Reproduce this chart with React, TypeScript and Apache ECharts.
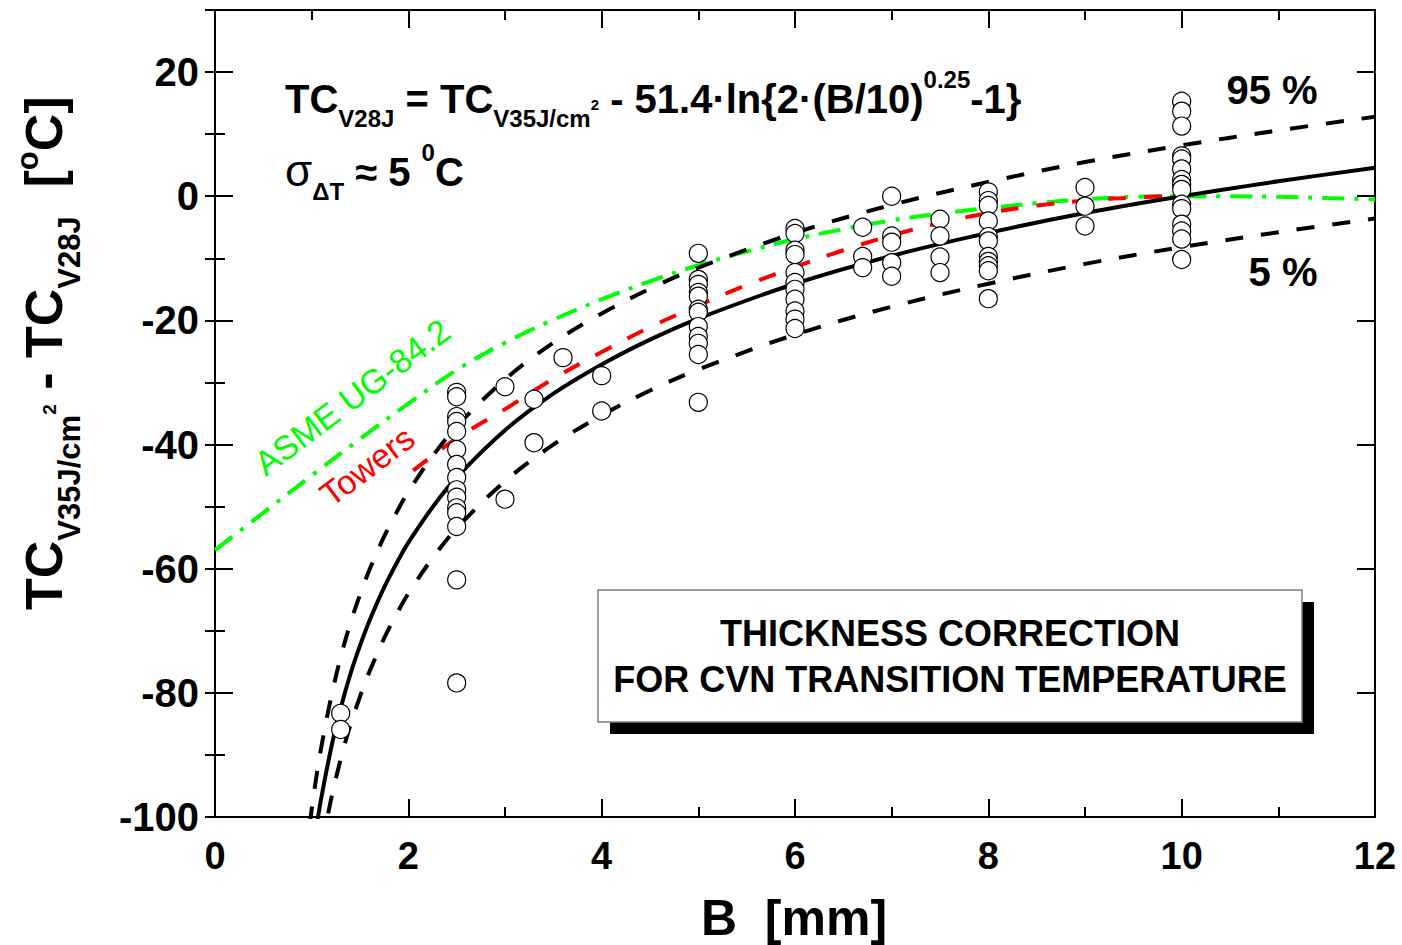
import React, { useEffect, useRef } from "react";
import * as echarts from "echarts";

const FONT = '"Liberation Sans", Arial, Helvetica, sans-serif';

// ---- measured points: ΔT = TC(35J/cm²) - TC(28J) [°C] per thickness B [mm]
const dtB13 = [-83.3, -85.9];
const dtB25 = [-31.6, -32.3, -35.5, -36.3, -37.9, -40.8, -43.2, -45.3, -47.3, -48.5, -50.2, -51.0, -53.2, -61.8, -78.4];
const dtB30 = [-30.7, -48.8];
const dtB33 = [-32.7, -39.7];
const dtB36 = [-26.0];
const dtB40 = [-28.9, -34.6];
const dtB50 = [-9.2, -13.4, -14.2, -15.5, -16.1, -18.2, -18.7, -21.0, -22.6, -23.7, -25.5, -33.2];
const dtB60 = [-5.2, -6.0, -8.7, -9.4, -12.3, -13.9, -15.0, -16.6, -18.5, -19.8, -21.3];
const dtB67 = [-5.0, -9.7, -11.5];
const dtB70 = [0.0, -6.4, -7.4, -10.7, -12.9];
const dtB75 = [-3.7, -6.4, -9.8, -12.3];
const dtB80 = [0.7, -0.7, -1.5, -4.0, -6.5, -7.2, -9.7, -10.5, -11.2, -12.0, -16.5];
const dtB90 = [1.4, -1.6, -4.8];
const dtB100 = [15.3, 13.7, 11.3, 6.5, 6.0, 4.4, 2.7, 1.9, 1.1, -1.3, -2.0, -4.5, -5.6, -6.9, -10.2];
const specimenB = [1.3, 2.5, 3.0, 3.3, 3.6, 4.0, 5.0, 6.0, 6.7, 7.0, 7.5, 8.0, 9.0, 10.0];
const specimenDT = [dtB13, dtB25, dtB30, dtB33, dtB36, dtB40, dtB50, dtB60, dtB67, dtB70, dtB75, dtB80, dtB90, dtB100];

// ---- curves
const fitB = [1.0, 1.05, 1.1, 1.2, 1.3, 1.4, 1.5, 1.6, 1.75, 1.9, 2, 2.25, 2.5, 3, 3.5, 4, 4.5, 5, 6, 7, 8, 9, 10, 11, 12];
const fitDT = [-107.0, -101.6, -96.9, -89.0, -82.5, -77.0, -72.4, -68.3, -63.0, -58.5, -55.8, -50.1, -45.3, -37.7, -31.8, -27.1, -23.1, -19.7, -14.1, -9.6, -5.9, -2.7, 0.0, 2.4, 4.6];
const upperB = [0.98, 1.0, 1.05, 1.1, 1.2, 1.3, 1.4, 1.5, 1.6, 1.75, 1.9, 2, 2.25, 2.5, 3, 3.5, 4, 4.5, 5, 6, 7, 8, 9, 10, 11, 12];
const upperDT = [-101.2, -98.8, -93.4, -88.7, -80.8, -74.3, -68.8, -64.2, -60.1, -54.8, -50.3, -47.6, -41.9, -37.1, -29.5, -23.6, -18.9, -14.9, -11.5, -5.9, -1.4, 2.3, 5.5, 8.2, 10.6, 12.8];
const lowerB = [1.1, 1.2, 1.3, 1.4, 1.5, 1.6, 1.75, 1.9, 2, 2.25, 2.5, 3, 3.5, 4, 4.5, 5, 6, 7, 8, 9, 10, 11, 12];
const lowerDT = [-105.1, -97.2, -90.7, -85.2, -80.6, -76.5, -71.2, -66.7, -64.0, -58.3, -53.5, -45.9, -40.0, -35.3, -31.3, -27.9, -22.3, -17.8, -14.1, -10.9, -8.2, -5.8, -3.6];
const asmeB = [0, 0.5, 1, 1.5, 2, 2.5, 3, 3.5, 4, 4.5, 5, 5.5, 6, 6.5, 7, 7.5, 8, 8.5, 9, 9.5, 10, 10.5, 11, 11.5, 12];
const asmeDT = [-57.0, -51.0, -45.0, -39.1, -33.4, -28.0, -23.6, -19.9, -16.6, -13.7, -11.1, -8.9, -6.9, -5.3, -3.9, -2.8, -1.9, -1.1, -0.5, -0.1, 0.0, 0.0, -0.1, -0.3, -0.5];
const towersB = [2.05, 2.5, 3, 3.5, 4, 4.5, 5, 5.5, 6, 6.5, 7, 7.5, 8, 8.5, 9, 9.5, 9.8];
const towersDT = [-44.2, -39.0, -34.3, -29.4, -25.1, -21.1, -17.6, -14.3, -11.4, -8.7, -6.3, -4.3, -2.7, -1.5, -0.7, -0.2, 0.0];

// ---- axes
const X_MIN = 0, X_MAX = 12, X_STEP = 2;
const Y_MIN = -100, Y_MAX = 30, Y_STEP = 20;

const zip = (xs: number[], ys: number[]) => xs.map((x, i) => [x, ys[i]]);

let mctx: CanvasRenderingContext2D | null = null;
function measure(t: string, size: number, weight: string) {
  if (!mctx) mctx = document.createElement("canvas").getContext("2d");
  mctx!.font = `${weight} ${size}px ${FONT}`;
  return mctx!.measureText(t).width;
}

type Seg = { t: string; size: number; dy?: number; weight?: string };
function textRun(segs: Seg[], color: string) {
  let x = 0;
  const out: any[] = [];
  for (const s of segs) {
    const weight = s.weight || "bold";
    const lead = s.t.length - s.t.replace(/^ +/, "").length;
    const core = s.t.trim();
    const leadW = lead ? measure(" ".repeat(lead), s.size, weight) : 0;
    const w = measure(s.t, s.size, weight);
    if (core) {
      out.push({
        type: "text",
        x: x + leadW,
        y: (s.dy || 0) - 0.3465 * s.size,
        silent: true,
        style: {
          text: core,
          fontSize: s.size,
          fontWeight: weight,
          fontFamily: FONT,
          fill: color,
          textAlign: "left",
          verticalAlign: "middle",
          textVerticalAlign: "middle",
        },
      });
    }
    x += w;
  }
  return out;
}

const formulaLine1: Seg[] = [
  { t: "TC", size: 40 },
  { t: "V28J", size: 24, dy: 14 },
  { t: " = TC", size: 40 },
  { t: "V35J/cm", size: 24, dy: 14 },
  { t: "2", size: 15, dy: -3 },
  { t: " - 51.4·ln{2·(B/10)", size: 40 },
  { t: "0.25", size: 24, dy: -25 },
  { t: "-1}", size: 40 },
];
const formulaLine2: Seg[] = [
  { t: "σ", size: 44, weight: "normal" },
  { t: "ΔT", size: 24, dy: 14 },
  { t: " ≈ 5 ", size: 40 },
  { t: "0", size: 24, dy: -25 },
  { t: "C", size: 40 },
];
const yTitle: Seg[] = [
  { t: "TC", size: 52 },
  { t: "V35J/cm", size: 31, dy: 18 },
  { t: "2", size: 19, dy: -6 },
  { t: " - TC", size: 52 },
  { t: "V28J", size: 31, dy: 18 },
  { t: "  [", size: 52 },
  { t: "o", size: 31, dy: -24 },
  { t: "C]", size: 52 },
];

function plainText(text: string, x: number, y: number, size: number, color: string, weight = "bold", rotationDeg = 0) {
  return {
    type: "text",
    x,
    y,
    rotation: (rotationDeg * Math.PI) / 180,
    silent: true,
    style: {
      text,
      fontSize: size,
      fontWeight: weight,
      fontFamily: FONT,
      fill: color,
      textAlign: "center",
      verticalAlign: "middle",
      textVerticalAlign: "middle",
    },
  };
}

const labelStyle = { fontFamily: FONT, fontWeight: "bold" as const, fontSize: 38, color: "#000" };
const lineBlack = { color: "#000", width: 2 };

function curve(name: string, xs: number[], ys: number[], color: string, type: any, z: number) {
  return {
    name,
    type: "line",
    data: zip(xs, ys),
    showSymbol: false,
    smooth: 0.35,
    lineStyle: { color, width: 4, type, cap: "butt" },
    z,
    silent: true,
  };
}

export default function App() {
  const ref = useRef<HTMLDivElement>(null);
  useEffect(() => {
    if (!ref.current) return;
    const chart = echarts.init(ref.current, null, { renderer: "svg" });
    const scatterData: number[][] = [];
    specimenB.forEach((b, i) => specimenDT[i].forEach((v) => scatterData.push([b, v])));

    const xCommon = {
      type: "value" as const,
      min: X_MIN,
      max: X_MAX,
      interval: X_STEP,
      axisLine: { show: true, onZero: false, lineStyle: lineBlack },
      axisTick: { show: true, inside: true, length: 18, lineStyle: lineBlack },
      minorTick: { show: true, splitNumber: 2, length: 10, lineStyle: lineBlack },
      splitLine: { show: false },
      minorSplitLine: { show: false },
    };
    const yCommon = {
      type: "value" as const,
      min: Y_MIN,
      max: Y_MAX,
      splitLine: { show: false },
      axisLine: { show: true, onZero: false, lineStyle: lineBlack },
    };

    chart.setOption({
      animation: false,
      backgroundColor: "#fff",
      grid: { left: 215, right: 27, top: 10, bottom: 128, containLabel: false },
      xAxis: [
        {
          ...xCommon,
          position: "bottom",
          axisLabel: { ...labelStyle, margin: 20 },
        },
        { ...xCommon, position: "top", axisLabel: { show: false } },
      ],
      yAxis: [
        {
          ...yCommon,
          position: "left",
          interval: Y_STEP,
          axisTick: { show: true, inside: true, length: 18, lineStyle: lineBlack },
          axisLabel: {
            ...labelStyle,
            fontSize: 40,
            margin: 16,
            formatter: (v: number) => (v % Y_STEP === 0 && v <= 20 ? String(v) : ""),
          },
        },
        {
          ...yCommon,
          position: "left",
          interval: Y_STEP / 2,
          axisLine: { show: false },
          axisTick: { show: true, inside: true, length: 10, lineStyle: lineBlack },
          axisLabel: { show: false },
        },
        {
          ...yCommon,
          position: "right",
          interval: Y_STEP,
          axisTick: { show: true, inside: true, length: 18, lineStyle: lineBlack },
          axisLabel: { show: false },
        },
        {
          ...yCommon,
          position: "right",
          interval: Y_STEP / 2,
          axisLine: { show: false },
          axisTick: { show: true, inside: true, length: 10, lineStyle: lineBlack },
          axisLabel: { show: false },
        },
      ],
      series: [
        curve("ASME UG-84.2", asmeB, asmeDT, "#00ff00", [22, 10, 4, 10], 2),
        curve("Towers", towersB, towersDT, "#ff0000", [18, 18], 3),
        curve("95 %", upperB, upperDT, "#000", [18, 18], 3),
        curve("5 %", lowerB, lowerDT, "#000", [18, 18], 3),
        curve("fit", fitB, fitDT, "#000", "solid", 4),
        {
          name: "data",
          type: "scatter",
          data: scatterData,
          symbol: "circle",
          symbolSize: 18,
          itemStyle: { color: "#fff", borderColor: "#000", borderWidth: 1.2, opacity: 1 },
          z: 10,
          silent: true,
        },
      ],
      graphic: [
        { type: "group", x: 285, y: 113, children: textRun(formulaLine1, "#000") },
        { type: "group", x: 285, y: 186, children: textRun(formulaLine2, "#000") },
        { type: "group", x: 62, y: 610, rotation: Math.PI / 2, children: textRun(yTitle, "#000") },
        plainText("B\u00a0 [mm]", 794, 918, 50, "#000"),
        plainText("95 %", 1272, 90, 40, "#000"),
        plainText("5 %", 1283, 272, 40, "#000"),
        plainText("ASME UG-84.2", 352, 397, 34, "#00ff00", "normal", 37),
        plainText("Towers", 367, 466, 34, "#ff0000", "normal", 37),
        {
          type: "rect",
          silent: true,
          shape: { x: 610, y: 602, width: 704, height: 132 },
          style: { fill: "#000" },
        },
        {
          type: "rect",
          silent: true,
          shape: { x: 598, y: 590, width: 704, height: 132 },
          style: { fill: "#fff", stroke: "#808080", lineWidth: 1.5 },
        },
        plainText("THICKNESS CORRECTION", 950, 633, 36, "#000"),
        plainText("FOR CVN TRANSITION TEMPERATURE", 950, 679, 36, "#000"),
      ],
    });
    return () => chart.dispose();
  }, []);
  return (
    <div
      ref={ref}
      style={{ position: "absolute", left: 0, top: 0, width: 1402, height: 945, background: "#fff" }}
    />
  );
}
